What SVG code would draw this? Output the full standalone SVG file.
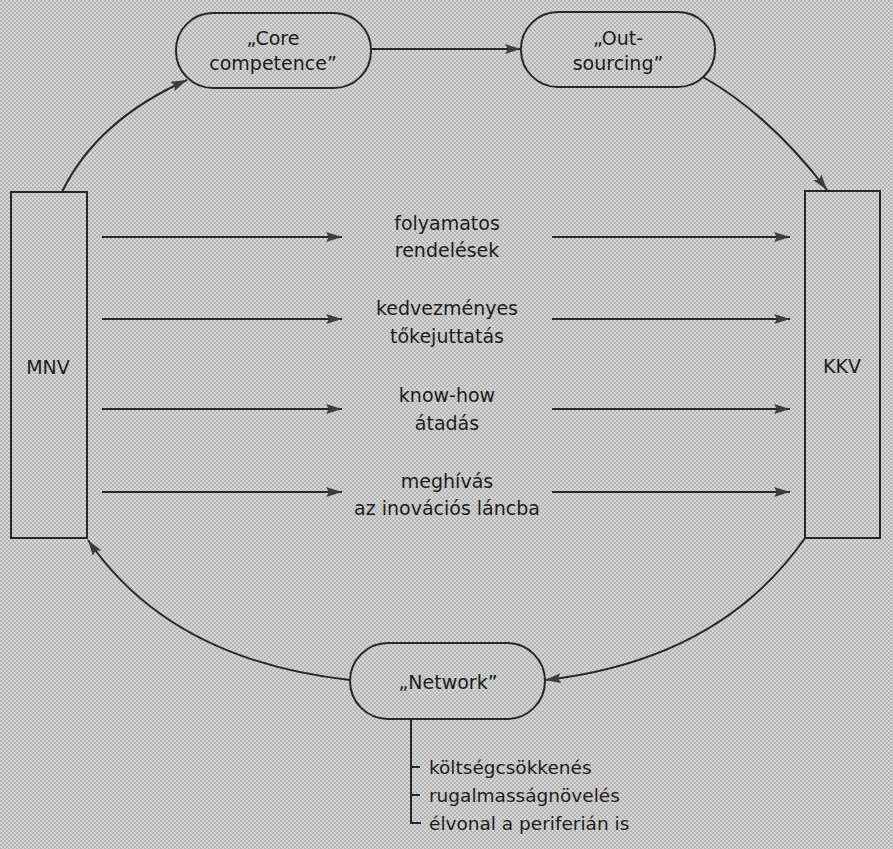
<svg xmlns="http://www.w3.org/2000/svg" width="893" height="849" viewBox="0 0 893 849">
  <defs>
    <marker id="arrow" viewBox="0 0 16 10" markerWidth="16" markerHeight="10" refX="16" refY="5" orient="auto" markerUnits="userSpaceOnUse">
      <path d="M0,0 L16,5 L0,10 L3,5 z" fill="#3c3c3c"/>
    </marker>
    <!-- halftone screen of the printed page -->
    <pattern id="screen" width="4" height="4" patternUnits="userSpaceOnUse">
      <rect width="4" height="4" fill="#d6d6d6"/>
      <rect x="0" y="0" width="2" height="2" fill="#b4b4b4"/>
      <rect x="2" y="2" width="2" height="2" fill="#b4b4b4"/>
    </pattern>
  </defs>
  <style>
    .box { fill: none; stroke: #262626; stroke-width: 2; }
    .edge { fill: none; stroke: #262626; stroke-width: 2; }
    .arr { marker-end: url(#arrow); }
    text { font-family: "DejaVu Sans", "Liberation Sans", sans-serif; font-size: 19px; fill: #1c1c1c; }
    .c { text-anchor: middle; }
    .list { font-size: 18.5px; }
  </style>

  <rect width="893" height="849" fill="url(#screen)"/>

  <!-- connectors -->
  <g id="connectors">
    <path class="edge arr" d="M62,192 Q97,120 187,80"/>
    <path class="edge arr" d="M371,49 L521,49"/>
    <path class="edge arr" d="M703,77 Q770,115 827,190"/>
    <path class="edge arr" d="M805,538 Q720,660 545,680"/>
    <path class="edge arr" d="M350,680 Q170,660 88,540"/>

    <path class="edge arr" d="M102,237 L342,237"/>
    <path class="edge arr" d="M552,237 L790,237"/>
    <path class="edge arr" d="M102,319 L342,319"/>
    <path class="edge arr" d="M552,319 L790,319"/>
    <path class="edge arr" d="M102,409 L342,409"/>
    <path class="edge arr" d="M552,409 L790,409"/>
    <path class="edge arr" d="M102,492 L342,492"/>
    <path class="edge arr" d="M552,492 L790,492"/>

    <path class="edge" d="M411,719 L411,823 L421,823 M411,767 L420,767 M411,795 L420,795"/>
  </g>

  <!-- flow labels between the two actors -->
  <g id="flow-labels">
    <text class="c" x="447" y="230">folyamatos</text>
    <text class="c" x="447" y="257">rendelések</text>
    <text class="c" x="447" y="315">kedvezményes</text>
    <text class="c" x="447" y="343">tőkejuttatás</text>
    <text class="c" x="447" y="402">know-how</text>
    <text class="c" x="447" y="430">átadás</text>
    <text class="c" x="447" y="488">meghívás</text>
    <text class="c" x="447" y="515">az inovációs láncba</text>
  </g>

  <g id="mnv">
    <rect class="box" x="11" y="192" width="76" height="346"/>
    <text class="c" x="48" y="374">MNV</text>
  </g>

  <g id="kkv">
    <rect class="box" x="805" y="191" width="75" height="347"/>
    <text class="c" x="842" y="373">KKV</text>
  </g>

  <g id="core-competence">
    <rect class="box" x="176" y="13" width="195" height="75" rx="37"/>
    <text class="c" x="273" y="45">„Core</text>
    <text class="c" x="273" y="70">competence”</text>
  </g>

  <g id="outsourcing">
    <rect class="box" x="521" y="12" width="194" height="75" rx="37"/>
    <text class="c" x="618" y="45">„Out-</text>
    <text class="c" x="618" y="70">sourcing”</text>
  </g>

  <g id="network">
    <rect class="box" x="350" y="643" width="195" height="76" rx="38"/>
    <text class="c" x="448" y="689">„Network”</text>
  </g>

  <g id="network-benefits">
    <text class="list" x="429" y="774">költségcsökkenés</text>
    <text class="list" x="429" y="802">rugalmasságnövelés</text>
    <text class="list" x="429" y="830">élvonal a periferián is</text>
  </g>
</svg>
